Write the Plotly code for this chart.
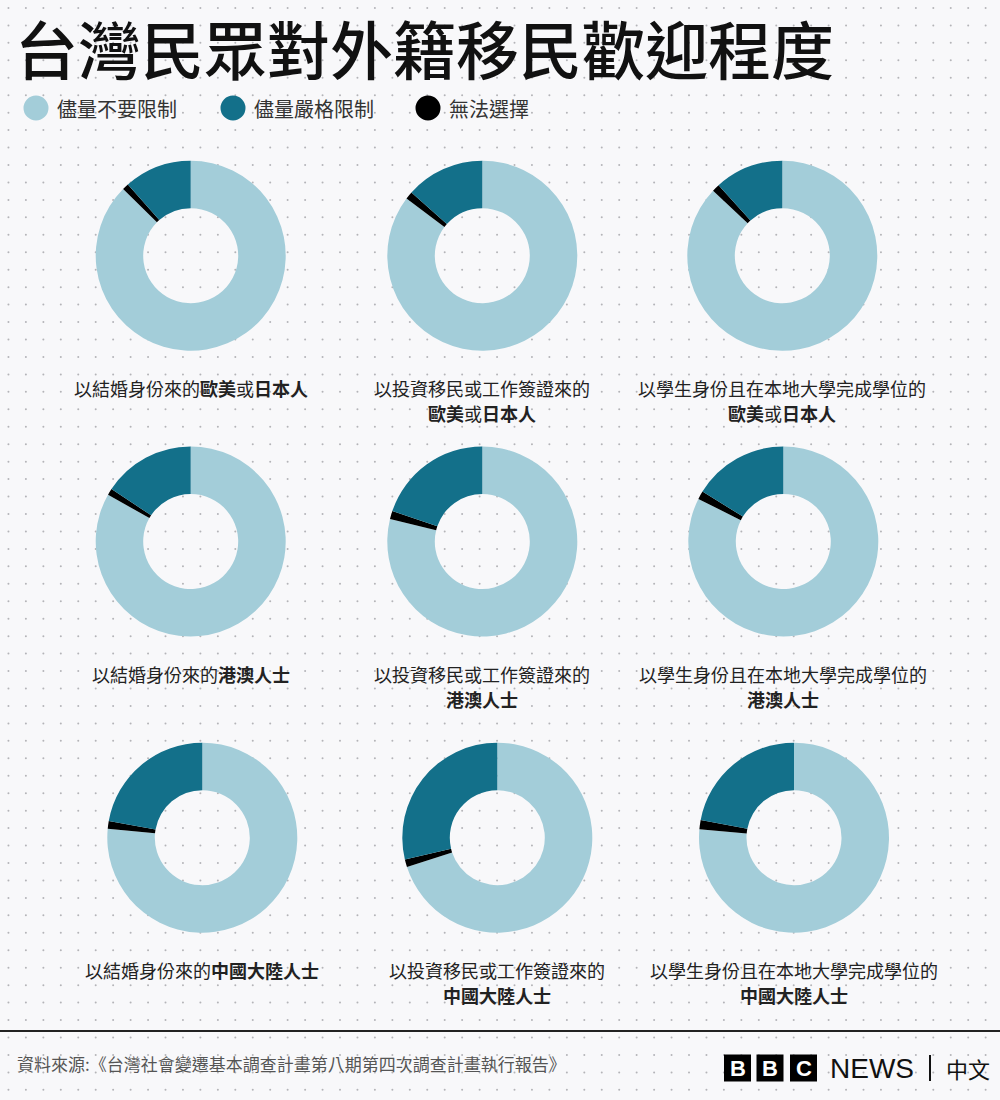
import numpy as np
import plotly.graph_objects as go

# ---------------- data ----------------
title_text = "台灣民眾對外籍移民歡迎程度"
legend_labels = ["儘量不要限制", "儘量嚴格限制", "無法選擇"]
legend_colors = ["#a3cdd9", "#13708a", "#000000"]

statuses = ["以結婚身份來的", "以投資移民或工作簽證來的", "以學生身份且在本地大學完成學位的"]
groups_html = ["<b>歐美</b>或<b>日本人</b>", "<b>港澳人士</b>", "<b>中國大陸人士</b>"]

# row-major: rows = groups (歐美或日本人, 港澳人士, 中國大陸人士), cols = statuses
no_limit = [87.4, 85.3, 87.0, 83.2, 78.8, 82.4, 76.5, 70.0, 76.4]   # 儘量不要限制
strict = [11.5, 13.4, 11.7, 15.7, 19.8, 16.2, 22.2, 28.7, 22.0]     # 儘量嚴格限制
cannot = [1.1, 1.3, 1.3, 1.1, 1.4, 1.4, 1.3, 1.3, 1.6]              # 無法選擇

source_text = "資料來源:《台灣社會變遷基本調查計畫第八期第四次調查計畫執行報告》"

# ---------------- layout geometry (pixels) ----------------
W, H = 1000, 1100
R = 95
row_y = [255.7, 541.5, 837.7]
col_x = [[190.7, 482.3, 782.3], [190.7, 482.3, 783.3], [202.3, 497.3, 794.0]]

FONT = "Noto Sans CJK TC, Noto Sans CJK SC, sans-serif"
BG = "#f8f8fa"

fig = go.Figure()

# dotted background grid
gx = 8.45 + 17.45 * np.arange(58)
gy = 7.95 + 17.45 * np.arange(64)
GX, GY = np.meshgrid(gx, gy)
fig.add_trace(go.Scatter(
    x=GX.ravel(), y=GY.ravel(), mode="markers",
    marker=dict(size=2, color="#b4b4b8"), hoverinfo="skip", showlegend=False,
))

annotations = []
for r in range(3):
    for c in range(3):
        i = r * 3 + c
        cx, cy = col_x[r][c], row_y[r]
        fig.add_trace(go.Pie(
            values=[no_limit[i], cannot[i], strict[i]],
            labels=[legend_labels[0], legend_labels[2], legend_labels[1]],
            marker=dict(colors=[legend_colors[0], legend_colors[2], legend_colors[1]],
                        line=dict(width=0)),
            hole=0.5, sort=False, direction="clockwise", rotation=0,
            textinfo="none", hoverinfo="label+percent", showlegend=False,
            domain=dict(x=[(cx - R) / W, (cx + R) / W],
                        y=[1 - (cy + R) / H, 1 - (cy - R) / H]),
        ))
        if c == 0:
            lines = [statuses[c] + groups_html[r]]
        else:
            lines = [statuses[c], groups_html[r]]
        for k, t in enumerate(lines):
            annotations.append(dict(
                x=cx, y=cy + 132 + 25 * k, xref="x", yref="y", text=t,
                showarrow=False, xanchor="center", yanchor="middle",
                font=dict(family=FONT, size=18, color="#222222"),
            ))

# title
annotations.append(dict(
    x=14, y=0, xref="x", yref="y", text=title_text, showarrow=False,
    xanchor="left", yanchor="top", borderpad=0,
    font=dict(family=FONT, size=63, color="#111111", weight=500),
))

# legend
shapes = []
leg_x = [36, 233, 428]
for lx, lab, col in zip(leg_x, legend_labels, legend_colors):
    shapes.append(dict(type="circle", xref="x", yref="y",
                       x0=lx - 12.5, x1=lx + 12.5, y0=108 - 12.5, y1=108 + 12.5,
                       fillcolor=col, line=dict(width=0)))
    annotations.append(dict(
        x=lx + 19, y=108, xref="x", yref="y", text=lab, showarrow=False,
        xanchor="left", yanchor="middle",
        font=dict(family=FONT, size=20, color="#333333"),
    ))

# footer line
shapes.append(dict(type="line", xref="x", yref="y", x0=0, x1=W, y0=1031, y1=1031,
                   line=dict(color="#222222", width=2)))

# source
annotations.append(dict(
    x=15, y=1063, xref="x", yref="y", text=source_text, showarrow=False,
    xanchor="left", yanchor="middle",
    font=dict(family=FONT, size=17, color="#555555"),
))

# BBC NEWS | 中文 logo
for bx, letter in zip([724, 756.5, 790], ["B", "B", "C"]):
    shapes.append(dict(type="rect", xref="x", yref="y", x0=bx, x1=bx + 27,
                       y0=1054.5, y1=1081.5, fillcolor="#000000", line=dict(width=0)))
    annotations.append(dict(
        x=bx + 13.5, y=1068.5, xref="x", yref="y", text="<b>" + letter + "</b>",
        showarrow=False, xanchor="center", yanchor="middle",
        font=dict(family="Liberation Sans, Arial, sans-serif", size=22, color="#ffffff"),
    ))
annotations.append(dict(
    x=828, y=1068, xref="x", yref="y", text="NEWS", showarrow=False,
    xanchor="left", yanchor="middle",
    font=dict(family="Liberation Sans Narrow, Liberation Sans, sans-serif", size=28, color="#111111"),
))
shapes.append(dict(type="line", xref="x", yref="y", x0=930, x1=930, y0=1055, y1=1081,
                   line=dict(color="#111111", width=2)))
annotations.append(dict(
    x=944, y=1068, xref="x", yref="y", text="中文", showarrow=False,
    xanchor="left", yanchor="middle",
    font=dict(family=FONT, size=22, color="#111111"),
))

fig.update_layout(
    width=W, height=H, margin=dict(l=0, r=0, t=0, b=0),
    paper_bgcolor=BG, plot_bgcolor=BG,
    xaxis=dict(range=[0, W], visible=False, domain=[0, 1], fixedrange=True),
    yaxis=dict(range=[H, 0], visible=False, domain=[0, 1], fixedrange=True),
    annotations=annotations, shapes=shapes, showlegend=False,
)

fig.write_html(
    "out.html",
    config={"displayModeBar": False},
    post_script=(
        "document.body.style.margin='0';"
        "document.body.style.overflow='hidden';"
        "document.body.style.background='#f8f8fa';"
    ),
)
